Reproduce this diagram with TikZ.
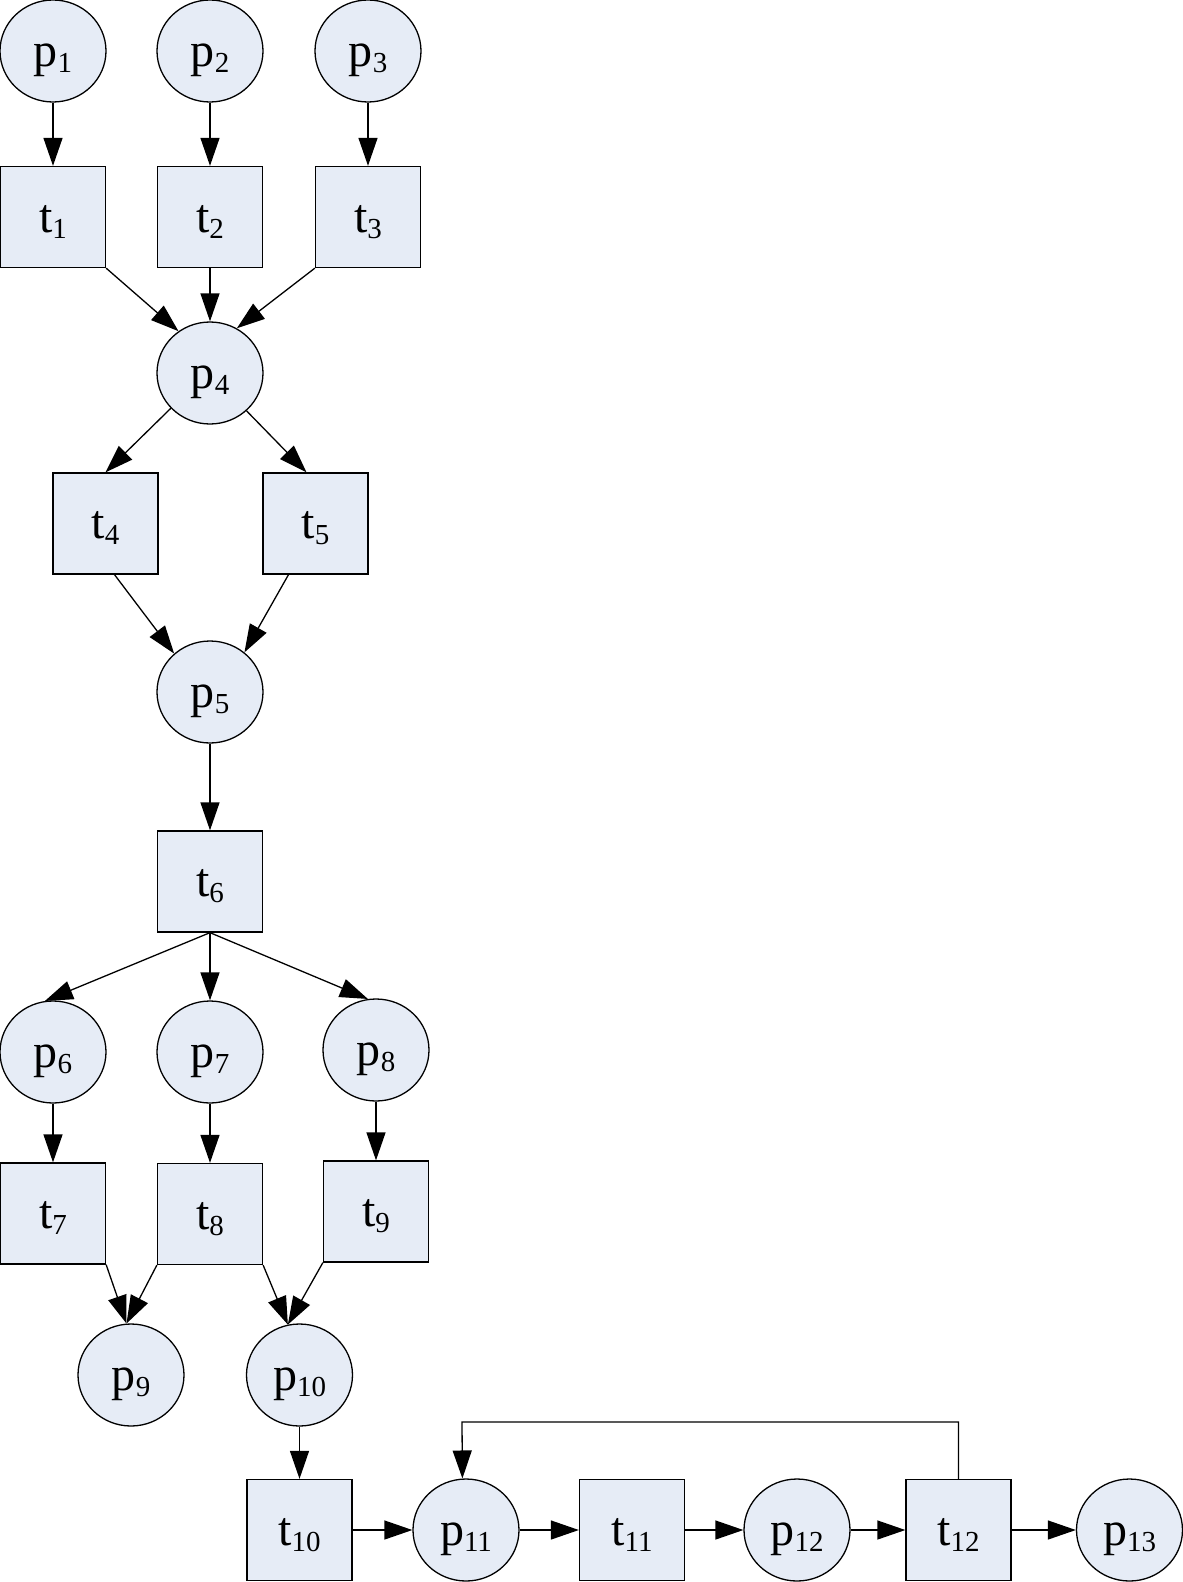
\documentclass[tikz,border=0pt]{standalone}
\usepackage{fontspec}
\setmainfont{Liberation Serif}
\usetikzlibrary{arrows.meta,shapes.geometric}
\definecolor{nodefill}{RGB}{230,236,246}
\newcommand\pnlbl[2]{#1\raisebox{-6pt}{\fontsize{29}{29}\selectfont #2}}
\begin{document}
\begin{tikzpicture}[x=1pt,y=-1pt,
  place/.style={ellipse,draw,fill=nodefill,line width=1.3pt,minimum width=106pt,minimum height=102pt,inner sep=0pt,text height=30pt,text depth=0pt,font=\fontsize{48}{50}\selectfont},
  trans/.style={rectangle,draw,fill=nodefill,line width=1.3pt,minimum width=105pt,minimum height=101pt,inner sep=0pt,text height=30pt,text depth=0pt,font=\fontsize{48}{50}\selectfont},
  arc/.style={line width=1.3pt,-{Triangle[length=28pt,width=19pt]}}]
\useasboundingbox (0,0) rectangle (1183,1582);
% places and transitions
\node[place] (p1) at (53,51) {\pnlbl{p}{1}};
\node[place] (p2) at (210,51) {\pnlbl{p}{2}};
\node[place] (p3) at (368,51) {\pnlbl{p}{3}};
\node[trans] (t1) at (53,217) {\pnlbl{t}{1}};
\node[trans] (t2) at (210,217) {\pnlbl{t}{2}};
\node[trans] (t3) at (368,217) {\pnlbl{t}{3}};
\node[place] (p4) at (210,373) {\pnlbl{p}{4}};
\node[trans] (t4) at (105.5,523.5) {\pnlbl{t}{4}};
\node[trans] (t5) at (315.5,523.5) {\pnlbl{t}{5}};
\node[place] (p5) at (210,692) {\pnlbl{p}{5}};
\node[trans] (t6) at (210,881.5) {\pnlbl{t}{6}};
\node[place] (p6) at (53,1052) {\pnlbl{p}{6}};
\node[place] (p7) at (210,1052) {\pnlbl{p}{7}};
\node[place] (p8) at (376,1050) {\pnlbl{p}{8}};
\node[trans] (t7) at (53,1213.5) {\pnlbl{t}{7}};
\node[trans] (t8) at (210,1214) {\pnlbl{t}{8}};
\node[trans] (t9) at (376,1211.5) {\pnlbl{t}{9}};
\node[place] (p9) at (131,1375) {\pnlbl{p}{9}};
\node[place] (p10) at (299.5,1375) {\pnlbl{p}{10}};
\node[trans] (t10) at (299.5,1530) {\pnlbl{t}{10}};
\node[place] (p11) at (466,1530) {\pnlbl{p}{11}};
\node[trans] (t11) at (632,1530) {\pnlbl{t}{11}};
\node[place] (p12) at (797,1530) {\pnlbl{p}{12}};
\node[trans] (t12) at (958.5,1530) {\pnlbl{t}{12}};
\node[place] (p13) at (1129.5,1530) {\pnlbl{p}{13}};
\coordinate (fb) at (462,1422);
% arcs
\draw[arc] (p1) -- (t1);
\draw[arc] (p2) -- (t2);
\draw[arc] (p3) -- (t3);
\draw[arc] (t1.south east) -- (p4.127);
\draw[arc] (t2) -- (p4);
\draw[arc] (t3.south west) -- (p4.59);
\draw[arc] (p4.222) -- (t4.north);
\draw[arc] (p4.314) -- ([xshift=-9pt]t5.north);
\draw[arc] ([xshift=9pt]t4.south) -- (p5.133);
\draw[arc] ([xshift=-27pt]t5.south) -- (p5.49);
\draw[arc] (p5) -- (t6);
\draw[arc] (t6.south) -- (p6.99);
\draw[arc] (t6) -- (p7);
\draw[arc] (t6.south) -- (p8.99);
\draw[arc] (p6) -- (t7);
\draw[arc] (p7) -- (t8);
\draw[arc] (p8) -- (t9);
\draw[arc] (t7.south east) -- (p9.95);
\draw[arc] (t8.south west) -- (p9.95);
\draw[arc] (t8.south east) -- (p10.103);
\draw[arc] (t9.south west) -- (p10.103);
\draw[arc] (p10) -- (t10);
\draw[arc] (t10) -- (p11);
\draw[arc] (p11) -- (t11);
\draw[arc] (t11) -- (p12);
\draw[arc] (p12) -- (t12);
\draw[arc] (t12) -- (p13);
\draw[arc] (t12.north) |- (fb) -- (p11.94);
\end{tikzpicture}
\end{document}
